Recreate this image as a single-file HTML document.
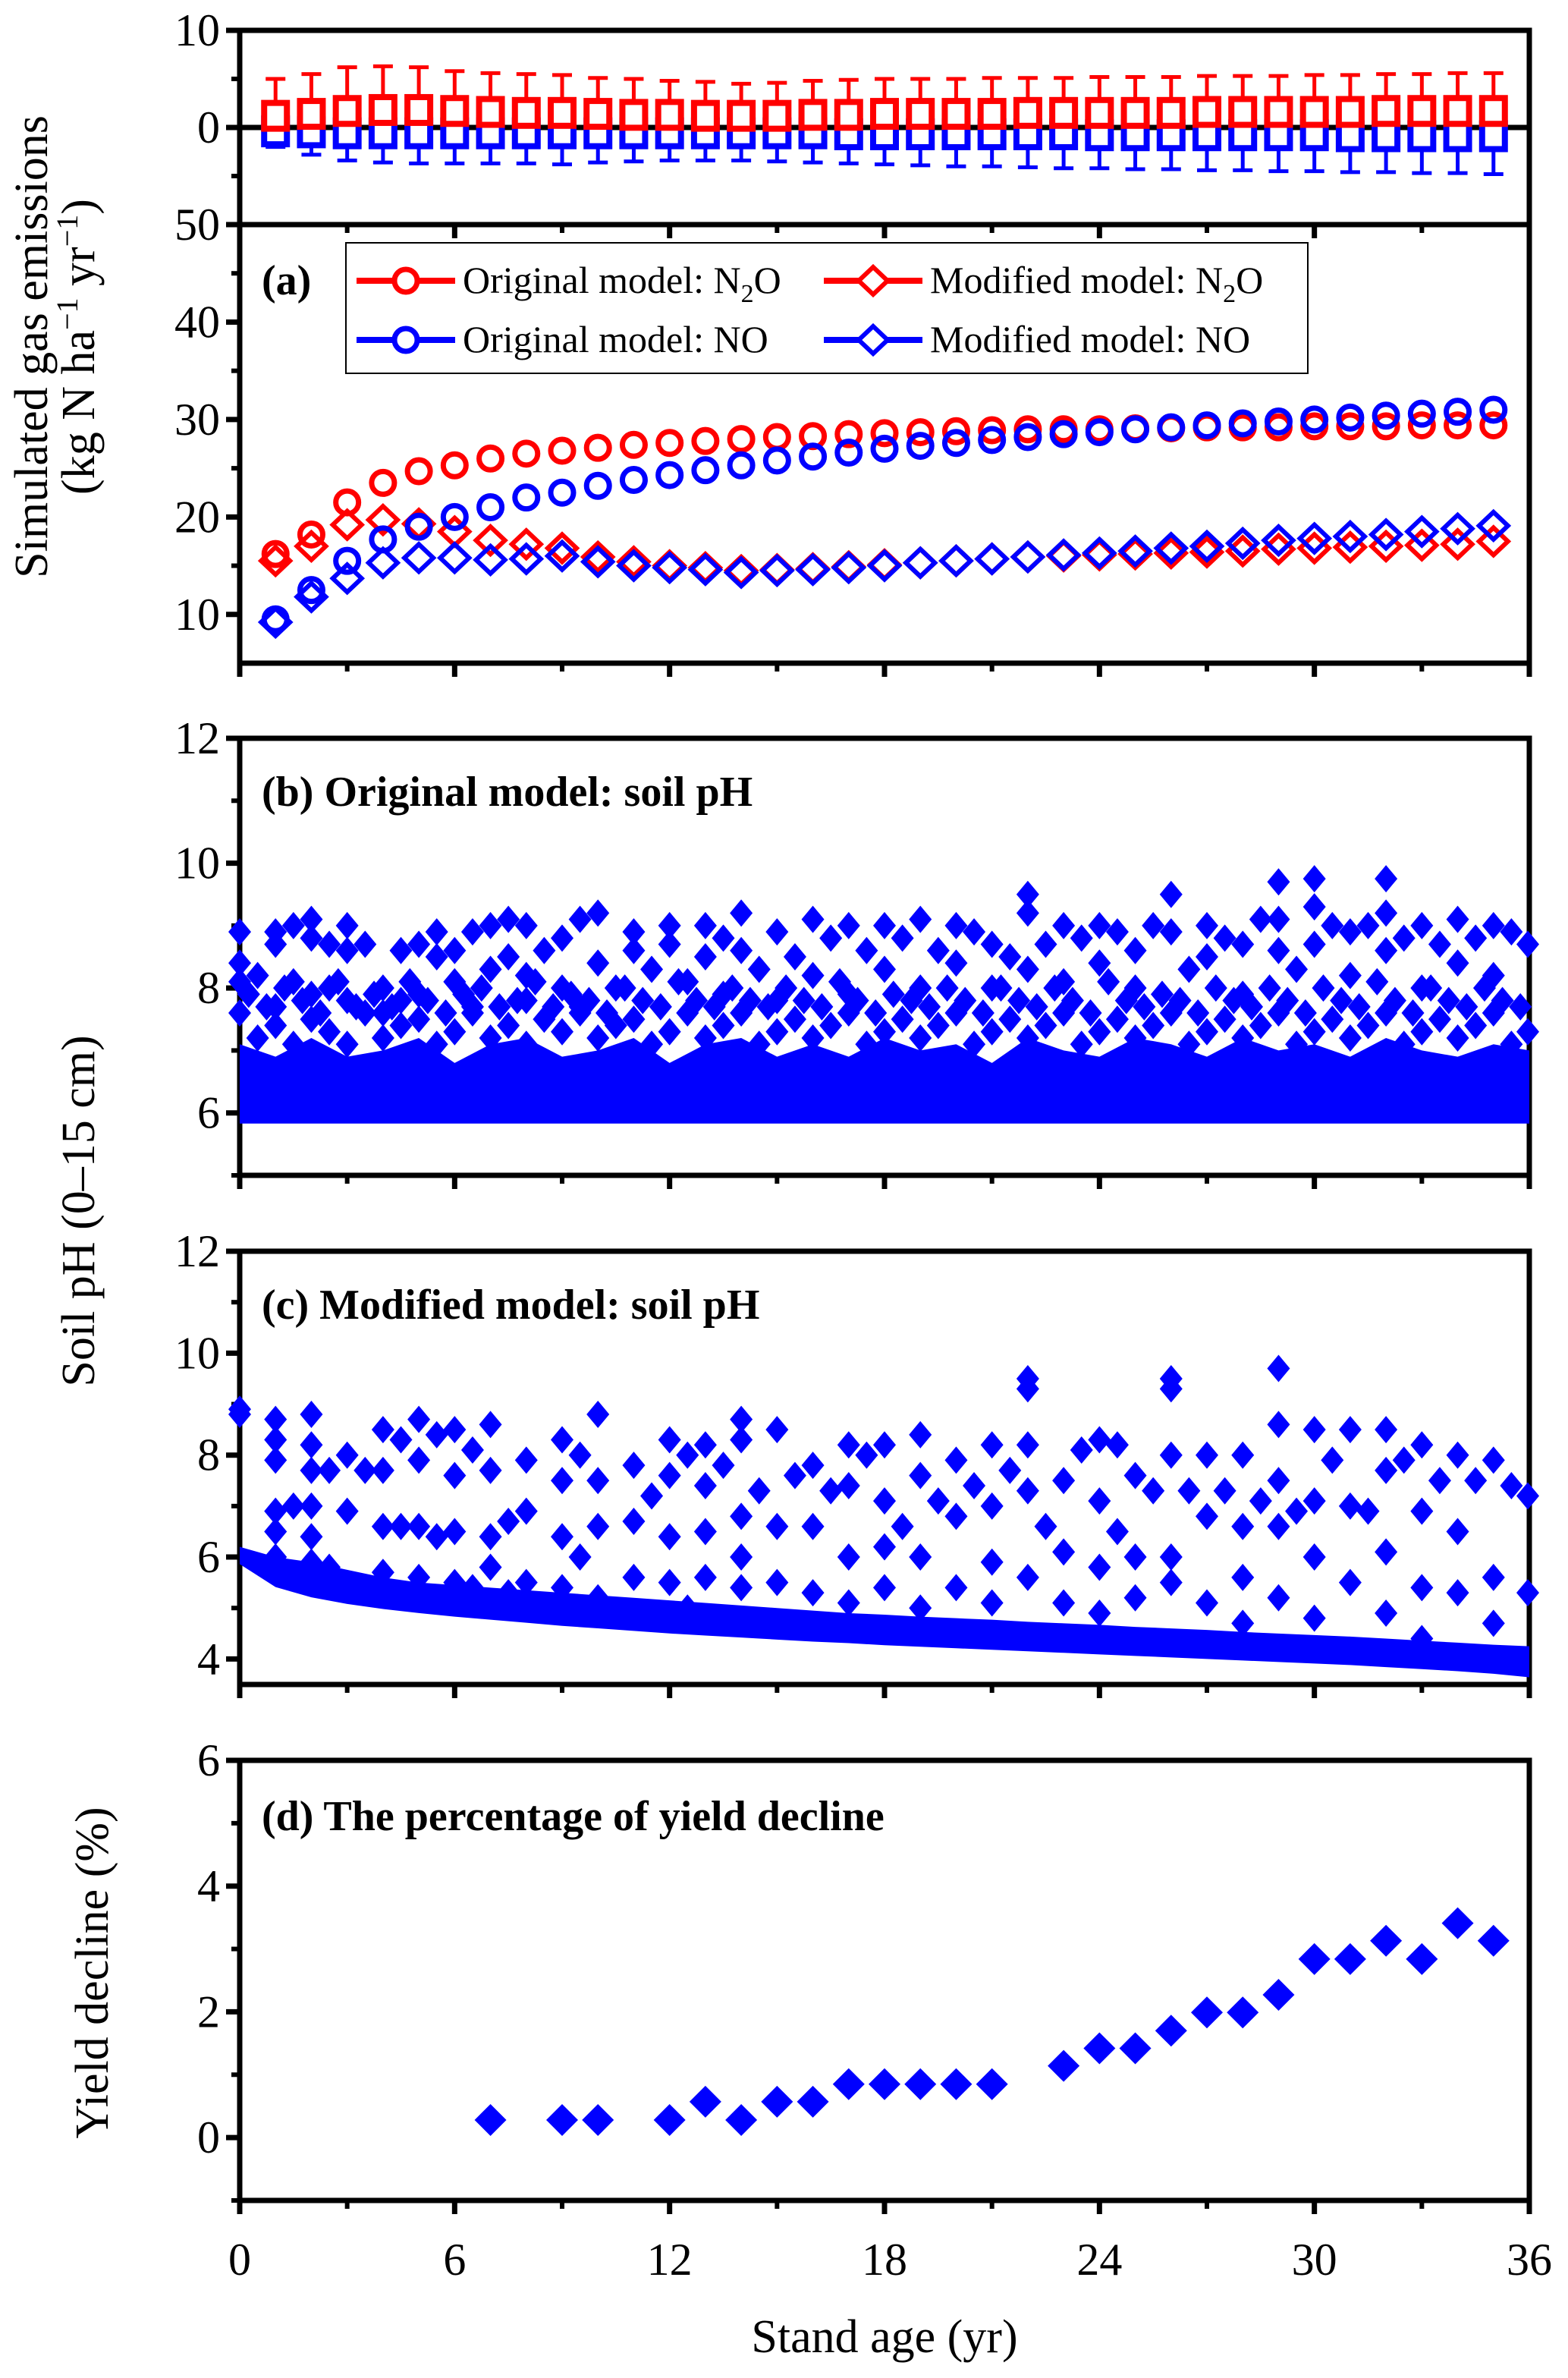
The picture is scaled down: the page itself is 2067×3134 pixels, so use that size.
<!DOCTYPE html>
<html><head><meta charset="utf-8"><style>
html,body{margin:0;padding:0;background:#fff;}
svg{display:block;}
svg text{font-family:"Liberation Serif","Times New Roman",serif;}
</style></head><body>
<svg id="fig" xmlns="http://www.w3.org/2000/svg" width="2067" height="3134" viewBox="0 0 2067 3134"></svg>
<script>
// ---------- data ----------
const years = [1,2,3,4,5,6,7,8,9,10,11,12,13,14,15,16,17,18,19,20,21,22,23,24,25,26,27,28,29,30,31,32,33,34,35];
const redMean = [1.2,1.4,1.7,1.8,1.8,1.7,1.6,1.5,1.5,1.4,1.3,1.3,1.2,1.2,1.2,1.3,1.3,1.4,1.4,1.4,1.4,1.5,1.5,1.5,1.5,1.5,1.6,1.6,1.6,1.6,1.6,1.7,1.7,1.7,1.7];
const redUp = [5.0,5.5,6.2,6.3,6.2,5.8,5.6,5.5,5.4,5.1,5.0,4.8,4.7,4.5,4.6,4.8,4.9,5.0,5.0,5.0,5.1,5.1,5.1,5.2,5.2,5.2,5.3,5.3,5.3,5.4,5.4,5.5,5.5,5.6,5.6];
const blueMean = [-0.4,-0.5,-0.6,-0.6,-0.6,-0.6,-0.6,-0.6,-0.6,-0.6,-0.6,-0.6,-0.6,-0.6,-0.6,-0.6,-0.7,-0.7,-0.7,-0.7,-0.7,-0.7,-0.7,-0.8,-0.8,-0.8,-0.8,-0.8,-0.8,-0.8,-0.9,-0.9,-0.9,-0.9,-0.9];
const blueLo = [-2.0,-2.8,-3.4,-3.6,-3.7,-3.7,-3.7,-3.7,-3.8,-3.6,-3.5,-3.4,-3.4,-3.4,-3.5,-3.6,-3.7,-3.8,-3.9,-4.0,-4.0,-4.1,-4.2,-4.2,-4.3,-4.3,-4.4,-4.4,-4.5,-4.5,-4.6,-4.6,-4.7,-4.7,-4.8];

const origN2O = [16.2,18.2,21.5,23.5,24.7,25.3,26,26.5,26.8,27.1,27.4,27.6,27.8,28,28.2,28.3,28.5,28.6,28.7,28.8,28.9,29,29,29,29.1,29.1,29.2,29.2,29.2,29.3,29.3,29.3,29.4,29.4,29.4];
const origNO = [9.5,12.5,15.5,17.7,19,20,21,22,22.5,23.2,23.8,24.3,24.8,25.3,25.8,26.2,26.6,27,27.3,27.6,27.9,28.2,28.5,28.7,29,29.2,29.4,29.6,29.8,30,30.2,30.4,30.6,30.8,31];
const modN2O = [15.5,17,19.2,19.7,19.3,18.5,17.6,17.2,16.8,15.9,15.4,15,14.8,14.5,14.6,14.7,14.9,15.1,15.3,15.5,15.7,15.9,16.0,16.1,16.2,16.3,16.4,16.5,16.7,16.8,16.9,17.0,17.1,17.2,17.5];
const modNO = [9.2,11.8,13.7,15.3,15.8,15.8,15.6,15.7,16,15.4,15,14.8,14.6,14.3,14.5,14.6,14.8,15.0,15.3,15.5,15.7,15.9,16.1,16.3,16.5,16.8,17.0,17.3,17.6,17.8,18.0,18.2,18.5,18.8,19.1];

const bandYears = [0,1,2,3,4,5,6,7,8,9,10,11,12,13,14,15,16,17,18,19,20,21,22,23,24,25,26,27,28,29,30,31,32,33,34,35,36];
const bBandTop = [7.1,6.9,7.2,6.9,7.0,7.2,6.8,7.1,7.2,6.9,7.0,7.2,6.8,7.1,7.2,6.9,7.1,6.9,7.2,7.0,7.1,6.8,7.2,7.0,6.9,7.2,7.1,6.9,7.2,7.0,7.1,6.9,7.2,7.0,6.9,7.1,7.0];
const bMid = [[0,7.6],[0.5,7.2],[1,7.4],[1.5,7.1],[2,7.5],[2.5,7.3],[3,7.1],[3.5,7.6],[4,7.2],[4.5,7.4],[5,7.5],[5.5,7.1],[6,7.3],[6.5,7.6],[7,7.2],[7.5,7.4],[8,7.1],[8.5,7.5],[9,7.3],[9.5,7.6],[10,7.2],[10.5,7.4],[11,7.5],[11.5,7.1],[12,7.3],[12.5,7.6],[13,7.2],[13.5,7.4],[14,7.6],[14.5,7.1],[15,7.3],[15.5,7.5],[16,7.2],[16.5,7.4],[17,7.6],[17.5,7.1],[18,7.3],[18.5,7.5],[19,7.2],[19.5,7.4],[20,7.6],[20.5,7.1],[21,7.3],[21.5,7.5],[22,7.2],[22.5,7.4],[23,7.6],[23.5,7.1],[24,7.3],[24.5,7.5],[25,7.2],[25.5,7.4],[26,7.6],[26.5,7.1],[27,7.3],[27.5,7.5],[28,7.2],[28.5,7.4],[29,7.6],[29.5,7.1],[30,7.3],[30.5,7.5],[31,7.2],[31.5,7.4],[32,7.6],[32.5,7.1],[33,7.3],[33.5,7.5],[34,7.2],[34.5,7.4],[35,7.6],[35.5,7.1],[36,7.3]];
const bMid2 = [[0.25,7.9],[0.75,7.7],[1.25,8.0],[1.75,7.8],[2.25,7.6],[2.75,8.1],[3.25,7.7],[3.75,7.9],[4.25,7.7],[4.75,8.1],[5.25,7.8],[5.75,7.6],[6.25,7.9],[6.75,8.0],[7.25,7.7],[7.75,7.8],[8.25,8.1],[8.75,7.7],[9.25,7.9],[9.75,7.8],[10.25,7.6],[10.75,8.0],[11.25,7.8],[11.75,7.7],[12.25,8.1],[12.75,7.8],[13.25,7.7],[13.75,8.0],[14.25,7.8],[14.75,7.7],[15.25,8.0],[15.75,7.8],[16.25,7.7],[16.75,8.1],[17.25,7.8],[17.75,7.6],[18.25,7.9],[18.75,7.8],[19.25,7.7],[19.75,8.0],[20.25,7.8],[20.75,7.6],[21.25,8.0],[21.75,7.8],[22.25,7.7],[22.75,8.0],[23.25,7.8],[23.75,7.6],[24.25,8.1],[24.75,7.8],[25.25,7.7],[25.75,7.9],[26.25,7.8],[26.75,7.6],[27.25,8.0],[27.75,7.8],[28.25,7.7],[28.75,8.0],[29.25,7.8],[29.75,7.6],[30.25,8.0],[30.75,7.8],[31.25,7.7],[31.75,8.1],[32.25,7.8],[32.75,7.6],[33.25,8.0],[33.75,7.8],[34.25,7.7],[34.75,8.0],[35.25,7.8],[35.75,7.7]];
const bUpper = [[0,8.9],[0,8.4],[0,8.1],[0.5,8.2],[1,8.9],[1,8.7],[1,7.7],[1.5,9.0],[1.5,8.1],[2,9.1],[2,8.8],[2,7.9],[2.5,8.7],[2.5,8.0],[3,8.6],[3,7.8],[3,9.0],[3.5,8.7],[4,8.0],[4,7.6],[4.5,8.6],[4.5,7.8],[5,8.7],[5,7.9],[5.5,8.9],[5.5,8.5],[6,8.6],[6,8.1],[6.5,8.9],[6.5,7.7],[7,9.0],[7,8.3],[7.5,9.1],[7.5,8.5],[8,9.0],[8,8.2],[8,7.8],[8.5,8.6],[9,8.8],[9,8.0],[9.5,9.1],[9.5,7.7],[10,9.2],[10,8.4],[10.5,8.0],[11,8.6],[11,8.9],[11.5,8.3],[12,9.0],[12,8.7],[12.5,8.1],[13,9.0],[13,8.5],[13.5,8.8],[13.5,7.9],[14,9.2],[14,8.6],[14.5,8.3],[15,8.9],[15,7.8],[15.5,8.5],[16,9.1],[16,8.2],[16.5,8.8],[17,9.0],[17,7.9],[17.5,8.6],[18,9.0],[18,8.3],[18.5,8.8],[19,9.1],[19,8.0],[19.5,8.6],[20,9.0],[20,8.4],[20.5,8.9],[21,8.7],[21,8.0],[21.5,8.5],[22,9.5],[22,9.2],[22,8.3],[22.5,8.7],[23,9.0],[23,8.1],[23.5,8.8],[24,9.0],[24,8.4],[24.5,8.9],[25,8.6],[25,8.0],[25.5,9.0],[26,9.5],[26,8.9],[26.5,8.3],[27,9.0],[27,8.5],[27.5,8.8],[28,8.7],[28,7.9],[28.5,9.1],[29,9.7],[29,9.1],[29,8.6],[29.5,8.3],[30,9.75],[30,9.3],[30,8.7],[30.5,9.0],[31,8.9],[31,8.2],[31.5,9.0],[32,9.75],[32,9.2],[32,8.6],[32.5,8.8],[33,9.0],[33,8.0],[33.5,8.7],[34,9.1],[34,8.4],[34.5,8.8],[35,9.0],[35,8.2],[35.5,8.9],[36,8.7]];

const cFloor = [5.95,5.5,5.3,5.17,5.07,4.99,4.92,4.86,4.8,4.74,4.69,4.64,4.59,4.55,4.51,4.47,4.43,4.4,4.36,4.33,4.3,4.27,4.24,4.21,4.18,4.15,4.12,4.09,4.06,4.03,4.0,3.97,3.93,3.89,3.85,3.8,3.73];
const cBandTop = [6.2,6.0,5.9,5.75,5.6,5.5,5.45,5.4,5.35,5.3,5.25,5.2,5.15,5.1,5.05,5.0,4.95,4.9,4.87,4.83,4.8,4.77,4.73,4.7,4.67,4.63,4.6,4.57,4.53,4.5,4.47,4.44,4.4,4.36,4.32,4.28,4.25];
const cUpper = [[0,8.9],[0,8.8],[1,8.7],[1,8.3],[1,7.9],[1,6.9],[1,6.5],[1.5,7.0],[1,6.0],[2,8.8],[2,8.2],[2,7.7],[2,7.0],[2,6.4],[2,5.9],[2.5,7.7],[2.5,5.8],[3,8.0],[3,6.9],[3.5,7.7],[4,8.5],[4,7.7],[4,6.6],[4,5.7],[4.5,8.3],[4.5,6.6],[5,8.7],[5,7.9],[5,6.6],[5,5.6],[5.5,8.4],[5.5,6.4],[6,8.5],[6,7.6],[6,6.5],[6,5.5],[6.5,8.1],[6.5,5.4],[7,8.6],[7,7.7],[7,6.4],[7,5.8],[7.5,6.7],[7.5,5.3],[8,7.9],[8,6.9],[8,5.5],[9,8.3],[9,7.5],[9,6.4],[9,5.4],[9.5,8.0],[9.5,6.0],[10,8.8],[10,7.5],[10,6.6],[10,5.2],[11,7.8],[11,6.7],[11,5.6],[11.5,7.2],[12,8.3],[12,7.6],[12,6.4],[12,5.5],[12.5,8.0],[12.5,5.0],[13,8.2],[13,7.4],[13,6.5],[13,5.6],[13.5,7.8],[14,8.7],[14,8.3],[14,6.8],[14,6.0],[14,5.4],[14.5,7.3],[15,8.5],[15,6.6],[15,5.5],[15.5,7.6],[16,7.8],[16,6.6],[16,5.3],[16.5,7.3],[17,8.2],[17,7.4],[17,6.0],[17,5.1],[17.5,8.0],[18,8.2],[18,7.1],[18,6.2],[18,5.4],[18.5,6.6],[19,8.4],[19,7.6],[19,6.0],[19,5.0],[19.5,7.1],[20,7.9],[20,6.8],[20,5.4],[20.5,7.4],[21,8.2],[21,7.0],[21,5.9],[21,5.1],[21.5,7.7],[22,9.5],[22,9.3],[22,8.2],[22,7.3],[22,5.6],[22.5,6.6],[23,7.5],[23,6.1],[23,5.1],[23.5,8.1],[24,8.3],[24,7.1],[24,5.8],[24,4.9],[24.5,8.2],[24.5,6.5],[25,7.6],[25,6.0],[25,5.2],[25.5,7.3],[26,9.5],[26,9.3],[26,8.0],[26,6.0],[26,5.5],[26.5,7.3],[27,8.0],[27,6.8],[27,5.1],[27.5,7.3],[28,8.0],[28,6.6],[28,5.6],[28,4.7],[28.5,7.1],[29,9.7],[29,8.6],[29,7.5],[29,6.6],[29,5.2],[29.5,6.9],[30,8.5],[30,7.1],[30,6.0],[30,4.8],[30.5,7.9],[31,8.5],[31,7.0],[31,5.5],[31.5,6.9],[32,8.5],[32,7.7],[32,6.1],[32,4.9],[32.5,7.9],[33,8.2],[33,6.9],[33,5.4],[33,4.4],[33.5,7.5],[34,8.0],[34,6.5],[34,5.3],[34.5,7.5],[35,7.9],[35,5.6],[35,4.7],[35.5,7.4],[36,7.2],[36,5.3]];

const dYears = [7,9,10,12,13,14,15,16,17,18,19,20,21,23,24,25,26,27,28,29,30,31,32,33,34,35];
const dValues = [0.28,0.28,0.28,0.28,0.57,0.28,0.57,0.57,0.85,0.85,0.85,0.85,0.85,1.14,1.42,1.42,1.7,1.99,1.99,2.27,2.84,2.84,3.13,2.84,3.41,3.13];

const xTicks = [0,6,12,18,24,30,36];
const topTicks = [10,0];
const aTicks = [50,40,30,20,10];
const bTicks = [12,10,8,6];
const cTicks = [12,10,8,6,4];
const dTicks = [6,4,2,0];

// ---------- scales ----------
const X0=316, X1=2016;
const X = v => X0 + v*(X1-X0)/36;
const Yt = v => 168 - v*12.8;
const Ya = v => 296 + (50-v)*(578/45);
const Yb = v => 973 + (12-v)*(576/7);
const Yc = v => 1649 + (12-v)*(571/8.5);
const Yd = v => 2320 + (6-v)*(580/7);

const svg = document.getElementById('fig');
const NS='http://www.w3.org/2000/svg';
const FONT='"Liberation Serif", "Times New Roman", serif';
function mk(tag, attrs, parent){
  const e=document.createElementNS(NS,tag);
  for(const k in attrs) e.setAttribute(k, attrs[k]);
  if(tag==='text') e.setAttribute('font-family', FONT);
  (parent||svg).appendChild(e);
  return e;
}
function group(name){
  const g=mk('g',{});
  
  
  return g;
}
function diamondPts(cx,cy,w,h){return `${cx},${cy-h/2} ${cx+w/2},${cy} ${cx},${cy+h/2} ${cx-w/2},${cy}`;}

// ---------- frames ----------
function frame(name, top, bottom, yfun, majors, minors, labels){
  const g=group(name);
  mk('rect',{x:X0,y:top,width:X1-X0,height:bottom-top,fill:'none',stroke:'#000','stroke-width':7},g);
  majors.forEach(v=>{
    const y=yfun(v);
    mk('line',{x1:X0-18,x2:X0,y1:y,y2:y,stroke:'#000','stroke-width':7},g);
    if(labels){
      const t=mk('text',{x:X0-26,y:y+20,'text-anchor':'end','font-size':60},g);
      t.textContent=v;
      
      
    }
  });
  minors.forEach(v=>{
    const y=yfun(v);
    mk('line',{x1:X0-11,x2:X0,y1:y,y2:y,stroke:'#000','stroke-width':6},g);
  });
  for(let v=0; v<=36; v+=3){
    const x=X(v), major = v%6===0;
    mk('line',{x1:x,x2:x,y1:bottom,y2:bottom+(major?18:11),stroke:'#000','stroke-width':major?7:6},g);
  }
  return g;
}

// top panel
const gTop = frame('error-panel', 40, 296, Yt, topTicks, [5,-5], true);
mk('line',{x1:X0,x2:X1,y1:Yt(0),y2:Yt(0),stroke:'#000','stroke-width':7},gTop);
function errBars(name, means, ends, color){
  const g=group(name);
  years.forEach((yr,i)=>{
    const x=X(yr), ym=Yt(means[i]), ye=Yt(ends[i]);
    mk('line',{x1:x,x2:x,y1:ym,y2:ye,stroke:color,'stroke-width':5},g);
    mk('line',{x1:x-13,x2:x+13,y1:ye,y2:ye,stroke:color,'stroke-width':5},g);
    const r=mk('rect',{x:x-15,y:ym-17,width:30,height:34,fill:'#fff',stroke:color,'stroke-width':8},g);
    
    
  });
}
errBars('no-sd-bars', blueMean, blueLo, '#0000ff');
errBars('n2o-sd-bars', redMean, redUp, '#ff0000');

// panel a
frame('panel-a', 296, 874, Ya, aTicks, [45,35,25,15], true);
function openSeries(name, vals, color, shape){
  const g=group(name);
  years.forEach((yr,i)=>{
    const x=X(yr), y=Ya(vals[i]);
    let m;
    if(shape==='circle') m=mk('circle',{cx:x,cy:y,r:15,fill:'none',stroke:color,'stroke-width':7},g);
    else m=mk('polygon',{points:diamondPts(x,y,38,36),fill:'none',stroke:color,'stroke-width':6},g);
    
    
  });
}
openSeries('modified-n2o', modN2O, '#ff0000', 'diamond');
openSeries('original-n2o', origN2O, '#ff0000', 'circle');
openSeries('modified-no', modNO, '#0000ff', 'diamond');
openSeries('original-no', origNO, '#0000ff', 'circle');

// legend
const lg = group('legend');
mk('rect',{x:456,y:320,width:1268,height:172,fill:'#fff',stroke:'#000','stroke-width':2},lg);
function legendEntry(x, y, color, shape, label, sub){
  const g=mk('g',{},lg);
  
  
  mk('line',{x1:x,x2:x+130,y1:y,y2:y,stroke:color,'stroke-width':8},g);
  if(shape==='circle') mk('circle',{cx:x+65,cy:y,r:15,fill:'#fff',stroke:color,'stroke-width':7},g);
  else mk('polygon',{points:diamondPts(x+65,y,38,36),fill:'#fff',stroke:color,'stroke-width':6},g);
  const t=mk('text',{x:x+140,y:y+16,'font-size':50},g);
  if(sub){
    t.innerHTML = label+'N<tspan font-size="34" dy="12">2</tspan><tspan dy="-12">O</tspan>';
  } else t.textContent = label+'NO';
}
legendEntry(470, 370, '#ff0000', 'circle', 'Original model: ', true);
legendEntry(1086, 370, '#ff0000', 'diamond', 'Modified model: ', true);
legendEntry(470, 448, '#0000ff', 'circle', 'Original model: ', false);
legendEntry(1086, 448, '#0000ff', 'diamond', 'Modified model: ', false);
const la=mk('text',{x:345,y:388,'font-size':56,'font-weight':'bold'});
la.textContent='(a)';



// panel b
frame('panel-b', 973, 1549, Yb, bTicks, [11,9,7,5], true);
const bMarks = group('panel-b-points');
{
  let pts = bandYears.map((yr,i)=>`${X(yr)},${Yb(bBandTop[i])}`);
  pts.push(`${X(36)},${Yb(5.83)}`, `${X(0)},${Yb(5.83)}`);
  const p=mk('polygon',{points:pts.join(' '),fill:'#0000ff'},bMarks);
  
  
  bMid.concat(bMid2, bUpper).forEach(d=>{
    const m=mk('polygon',{points:diamondPts(Math.min(X(d[0]),X1-2),Yb(d[1]),30,36),fill:'#0000ff'},bMarks);
    
    
  });
}
const lb=mk('text',{x:345,y:1062,'font-size':56,'font-weight':'bold'});
lb.textContent='(b) Original model: soil pH';



// panel c
frame('panel-c', 1649, 2220, Yc, cTicks, [11,9,7,5], true);
const cMarks = group('panel-c-points');
{
  let pts = bandYears.map((yr,i)=>`${X(yr)},${Yc(cBandTop[i])}`);
  for(let i=bandYears.length-1;i>=0;i--) pts.push(`${X(bandYears[i])},${Yc(cFloor[i])+6}`);
  const p=mk('polygon',{points:pts.join(' '),fill:'#0000ff'},cMarks);
  
  
  cUpper.forEach(d=>{
    const m=mk('polygon',{points:diamondPts(Math.min(X(d[0]),X1-2),Yc(d[1]),30,36),fill:'#0000ff'},cMarks);
    
    
  });
}
const lc=mk('text',{x:345,y:1738,'font-size':56,'font-weight':'bold'});
lc.textContent='(c) Modified model: soil pH';



// panel d
frame('panel-d', 2320, 2900, Yd, dTicks, [5,3,1,-1], true);
const dMarks = group('yield-decline-points');
dYears.forEach((yr,i)=>{
  const m=mk('polygon',{points:diamondPts(X(yr),Yd(dValues[i]),42,42),fill:'#0000ff'},dMarks);
  
  
});
const ld=mk('text',{x:345,y:2412,'font-size':56,'font-weight':'bold'});
ld.textContent='(d) The percentage of yield decline';



// x tick labels
const gx=group('x-axis-labels');
xTicks.forEach(v=>{
  const t=mk('text',{x:X(v),y:2998,'text-anchor':'middle','font-size':60},gx);
  t.textContent=v;
  
  
});
const xt=mk('text',{x:1166,y:3100,'text-anchor':'middle','font-size':62});
xt.textContent='Stand age (yr)';



// y titles
function ytitle(name, x, y, html){
  const t=mk('text',{x:0,y:0,'text-anchor':'middle','font-size':62,transform:`translate(${x},${y}) rotate(-90)`});
  t.innerHTML=html;
  
  
}
ytitle('y-axis-title-gas', 62, 457, 'Simulated gas emissions');
ytitle('y-axis-title-gas-units', 124, 457, '(kg N ha<tspan font-size="40" dy="-22">−1</tspan><tspan dy="22"> yr</tspan><tspan font-size="40" dy="-22">−1</tspan><tspan dy="22">)</tspan>');
ytitle('y-axis-title-ph', 124, 1596, 'Soil pH (0–15 cm)');
ytitle('y-axis-title-yield', 142, 2600, 'Yield decline (%)');
</script>
</body></html>
